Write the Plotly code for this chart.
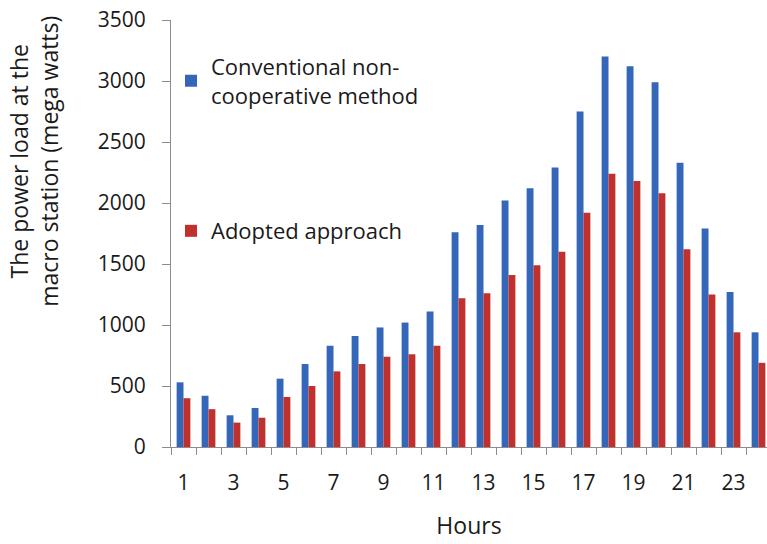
import plotly.graph_objects as go

hours = list(range(1, 25))
conventional = [530, 420, 260, 320, 560, 680, 830, 910, 980, 1020, 1110, 1760,
                1820, 2020, 2120, 2290, 2750, 3200, 3120, 2990, 2330, 1790, 1270, 940]
adopted = [400, 310, 200, 240, 410, 500, 620, 680, 740, 760, 830, 1220,
           1260, 1410, 1490, 1600, 1920, 2240, 2180, 2080, 1620, 1250, 940, 690]
x_tick_vals = list(range(1, 24, 2))
x_tick_text = [str(v) for v in x_tick_vals]
y_tick_vals = list(range(0, 3501, 500))

FONT = "Open Sans"
BLUE = "#3467b9"
RED = "#c0302c"
TXT = "#1a1a1a"

fig = go.Figure()
fig.add_trace(go.Bar(x=hours, y=conventional, name="Conventional non-<br>cooperative method",
                     marker=dict(color=BLUE, line=dict(width=0)), legend="legend"))
fig.add_trace(go.Bar(x=hours, y=adopted, name="Adopted approach",
                     marker=dict(color=RED, line=dict(width=0)), legend="legend2"))

fig.update_layout(
    width=767, height=544,
    margin=dict(l=171, r=0, t=20, b=97),
    paper_bgcolor="white", plot_bgcolor="white",
    barmode="group", bargap=0.45, bargroupgap=0,
    font=dict(family=FONT, size=22, color=TXT),
    showlegend=True,
    legend=dict(x=0.0, y=0.94, xanchor="left", yanchor="top",
                bgcolor="rgba(0,0,0,0)", font=dict(size=22, family=FONT, color=TXT),
                itemwidth=30, tracegroupgap=0),
    legend2=dict(x=0.0, y=0.555, xanchor="left", yanchor="top",
                 bgcolor="rgba(0,0,0,0)", font=dict(size=22, family=FONT, color=TXT),
                 itemwidth=30),
    xaxis=dict(
        range=[0.5, 24.34], tickmode="array", tickvals=x_tick_vals, ticktext=x_tick_text,
        ticks="outside", ticklen=0, tickcolor="rgba(0,0,0,0)", ticklabelstandoff=17,
        showline=True, linecolor="#8c8c8c", linewidth=1, showgrid=False, zeroline=False,
        minor=dict(tick0=0.5, dtick=1, ticks="outside", ticklen=7, tickcolor="#8c8c8c", showgrid=False),
        title=dict(text="Hours", font=dict(size=23, family=FONT, color=TXT), standoff=22),
        tickfont=dict(size=21, family=FONT, color=TXT),
    ),
    yaxis=dict(
        range=[0, 3500], tickmode="array", tickvals=y_tick_vals,
        ticks="outside", ticklen=8, tickcolor="#8c8c8c", ticklabelstandoff=12,
        showline=True, linecolor="#8c8c8c", linewidth=1, showgrid=False, zeroline=False,
        tickfont=dict(size=21, family=FONT, color=TXT),
    ),
    annotations=[dict(
        text="The power load at the<br>macro station (mega watts)",
        xref="paper", yref="paper", x=-0.23, y=0.67, xanchor="center", yanchor="middle",
        textangle=-90, showarrow=False, font=dict(size=23, family=FONT, color=TXT),
    )],
)

fig.write_html("out.html")
